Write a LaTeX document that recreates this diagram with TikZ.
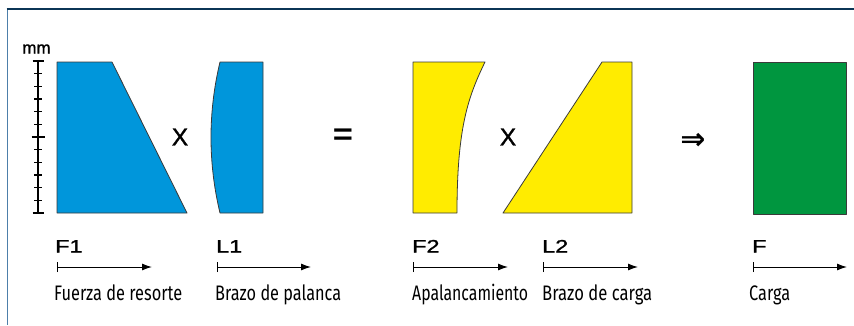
\documentclass[tikz,border=0pt]{standalone}
\usepackage{fontspec}
\usepackage{graphicx}
\setmainfont{Liberation Sans}
\newfontfamily\medfont[FakeBold=1.2]{Liberation Sans}
\newfontfamily\capfont{Fira Sans}
\newfontfamily\symfont{DejaVu Sans}
\usetikzlibrary{arrows.meta}
\definecolor{cblue}{HTML}{0096DB}
\definecolor{cyellow}{HTML}{FFEC00}
\definecolor{cgreen}{HTML}{00963F}
\definecolor{cedge}{HTML}{3A3A3A}
\definecolor{cframe}{HTML}{0B3556}
\definecolor{cframeL}{HTML}{4D7FAA}
\begin{document}
\begin{tikzpicture}[x=1pt,y=-1pt,
  shapeline/.style={draw=cedge, line width=0.8pt, line join=round},
  opsym/.style={inner sep=0pt, anchor=center, font=\medfont\fontsize{24.5}{25}\selectfont},
  varlab/.style={inner sep=0pt, anchor=base west, font=\medfont\fontsize{18}{18}\selectfont},
  caption/.style={inner sep=0pt, anchor=base west, font=\capfont\fontsize{21}{22}\selectfont},
  dimarrow/.style={line width=1pt, {Bar[width=10pt]}-{Latex[length=10pt,width=7pt]}},
  rulerline/.style={line width=1.2pt, black}
]
\useasboundingbox (0,0) rectangle (854,325);
% frame
\draw[cframeL, line width=1pt] (7,9.5) -- (7,325);
\draw[cframe, line width=1.8pt] (6.5,9) -- (854,9);

% ruler
\draw[rulerline] (38,61) -- (38,213);
\foreach \k in {0,...,12}{
  \pgfmathsetmacro{\yy}{61+\k*12.667}
  \ifnum\k=0 \def\hw{5.5}\else\ifnum\k=12 \def\hw{5.5}\else\ifnum\k=6 \def\hw{6.5}\else\def\hw{4}\fi\fi\fi
  \draw[rulerline] (38-\hw,\yy) -- (38+\hw,\yy);
}
\node[inner sep=0pt, font=\medfont\fontsize{17}{18}\selectfont] (mm) at (36.5,49) {mm};

% shapes
\draw[shapeline, fill=cblue] (57,62) -- (112,62) -- (187,213) -- (57,213) -- cycle;
\draw[shapeline, fill=cblue] (220,62) -- (263,62) -- (263,213) -- (220,213)
   .. controls (208,163) and (208,112) .. (220,62) -- cycle;
\draw[shapeline, fill=cyellow] (413,62) -- (485,62)
   .. controls (468,97) and (457,128) .. (457,213) -- (413,213) -- cycle;
\draw[shapeline, fill=cyellow] (503,213) -- (602,62) -- (632,62) -- (632,213) -- cycle;
\draw[shapeline, fill=cgreen] (753,62) rectangle (846,214);

% operators
\node[opsym] (x1) at (180,137) {X};
\node[opsym] (x2) at (508,137) {X};
\node[opsym, font=\bfseries\fontsize{30}{30}\selectfont] (eq) at (343,137) {\scalebox{1.15}[1]{=}};
\node[opsym, font=\symfont\bfseries\fontsize{30}{30}\selectfont] (impl) at (693,141) {⇒};

% variable labels
\node[varlab] (lF1) at (55,252.5) {\scalebox{1.3}[1]{F1}};
\node[varlab] (lL1) at (216,252.5) {\scalebox{1.3}[1]{L1}};
\node[varlab] (lF2) at (412,252.5) {\scalebox{1.3}[1]{F2}};
\node[varlab] (lL2) at (542,252.5) {\scalebox{1.3}[1]{L2}};
\node[varlab] (lF) at (752,252.5) {\scalebox{1.3}[1]{F}};

% dimension arrows
\coordinate (a1s) at (57,267);  \coordinate (a1e) at (152,267);
\coordinate (a2s) at (217,267); \coordinate (a2e) at (311,267);
\coordinate (a3s) at (413,267); \coordinate (a3e) at (508,267);
\coordinate (a4s) at (543,267); \coordinate (a4e) at (638,267);
\coordinate (a5s) at (753,267); \coordinate (a5e) at (847,267);
\draw[dimarrow] (a1s) -- (a1e);
\draw[dimarrow] (a2s) -- (a2e);
\draw[dimarrow] (a3s) -- (a3e);
\draw[dimarrow] (a4s) -- (a4e);
\draw[dimarrow] (a5s) -- (a5e);

% captions
\node[caption] (c1) at (54,300) {\resizebox{128pt}{\height}{Fuerza de resorte}};
\node[caption] (c2) at (215,300) {\resizebox{126pt}{\height}{Brazo de palanca}};
\node[caption] (c3) at (412,300) {\resizebox{116pt}{\height}{Apalancamiento}};
\node[caption] (c4) at (542,300) {\resizebox{110pt}{\height}{Brazo de carga}};
\node[caption] (c5) at (749,300) {\resizebox{41pt}{\height}{Carga}};
\end{tikzpicture}
\end{document}
